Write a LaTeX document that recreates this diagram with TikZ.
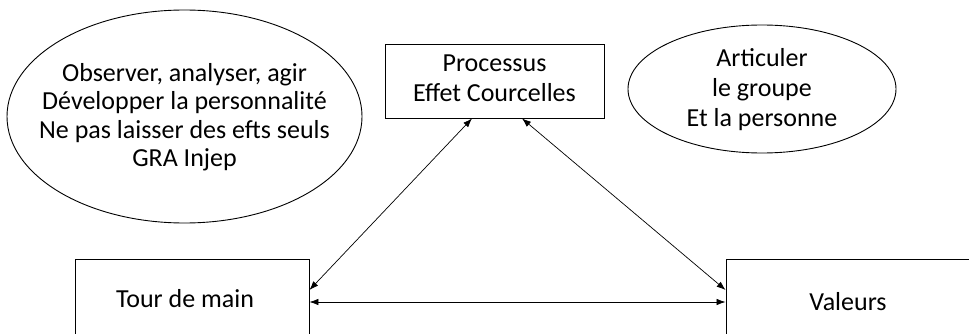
\documentclass[tikz,border=0pt]{standalone}
\usepackage{fontspec}
\setmainfont{Carlito}
\usetikzlibrary{arrows.meta}
\tikzset{
  box/.style={draw, line width=0.9pt, inner sep=0pt, align=center},
  txt/.style={inner sep=0pt, align=center},
  oval/.style={line width=0.9pt},
  link/.style={line width=0.7pt, {Latex[length=9pt,width=6.5pt]}-{Latex[length=9pt,width=6.5pt]}},
}
\begin{document}
\begin{tikzpicture}[x=1pt,y=-1pt, font=\fontsize{26}{30}\selectfont]
\useasboundingbox (0,0) rectangle (969,334);
% left ellipse
\draw[oval] (184.5,116.5) ellipse [x radius=177.5, y radius=106.5];
\node[txt, font=\fontsize{26}{28.5}\selectfont] (obs) at (184.5,117) {Observer, analyser, agir\\D\'evelopper la personnalit\'e\\Ne pas laisser des efts seuls\\GRA Injep};
% right ellipse
\draw[oval] (762,89) ellipse [x radius=134, y radius=64];
\node[txt] (art) at (762,90) {Articuler\\le groupe\\Et la personne};
% boxes
\node[box, minimum width=219pt, minimum height=74pt] (proc) at (494.5,81) {\raisebox{3pt}{\begin{tabular}{@{}c@{}}Processus\\Effet Courcelles\end{tabular}}};
\node[box, minimum width=234pt, minimum height=82pt] (tour) at (192,300) {\hspace*{-14pt}\raisebox{3pt}{Tour de main}};
\node[box, minimum width=244pt, minimum height=86pt] (val) at (848,302) {Valeurs};
% connectors
\draw[link] ([xshift=-22.5pt]proc.south) -- ([yshift=10pt]tour.east);
\draw[link] ([xshift=27.5pt]proc.south) -- ([yshift=12pt]val.west);
\draw[link] ([yshift=-2pt]tour.east) -- (val.west);
\end{tikzpicture}
\end{document}
